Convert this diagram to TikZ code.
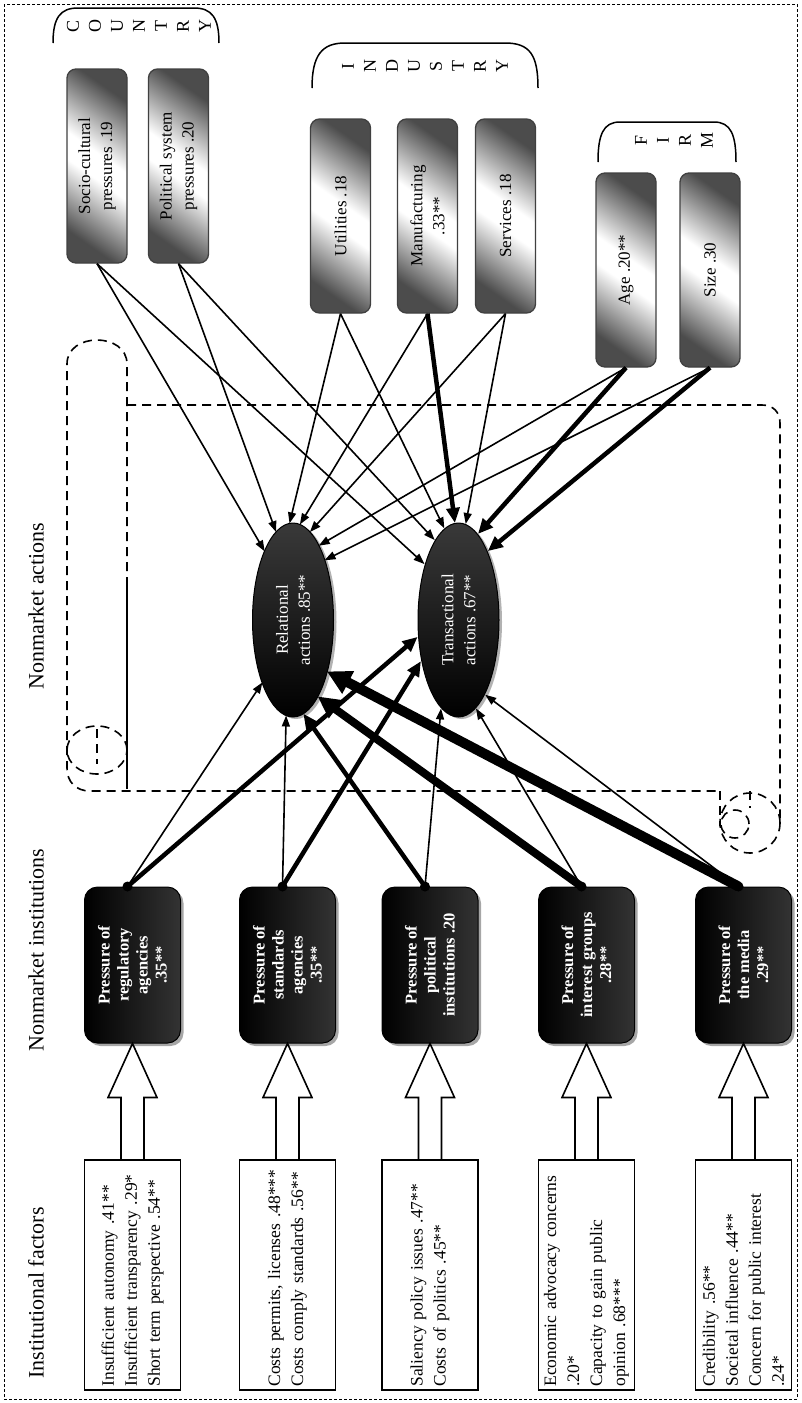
\documentclass[tikz,border=0pt]{standalone}
\usepackage{fontspec}
\setmainfont{Liberation Serif}
\usetikzlibrary{calc}
\usetikzlibrary{positioning}
\usetikzlibrary{arrows.meta}
\usetikzlibrary{shapes.geometric}
\usetikzlibrary{shadows}

\pgfdeclareverticalshading{ctxshade}{100bp}{color(0bp)=(black!70); color(25bp)=(black!70); color(46bp)=(white); color(54bp)=(white); color(75bp)=(black!70); color(100bp)=(black!70)}

\tikzset{
  lbl/.style={font=\fontsize{22}{26}\selectfont},
  factorbox/.style={draw, line width=1.6pt, minimum width=230pt, minimum height=96pt,
    text width=223pt, inner xsep=3.5pt, align=left, font=\fontsize{17.5}{23}\selectfont},
  pressbox/.style={draw=black, line width=1pt, rounded corners=13pt, left color=black, right color=black!80,
    minimum width=156pt, minimum height=96pt, align=center, text=white,
    font=\fontsize{16.5}{19}\selectfont\bfseries,
    drop shadow={shadow xshift=3pt, shadow yshift=-3pt, fill=gray!70, opacity=1}},
  ctxbox/.style={draw=black!75, line width=1.3pt, rounded corners=9pt, minimum width=194pt, minimum height=60pt,
    shading=ctxshade, shading angle=-35,
    align=center, font=\fontsize{17}{22}\selectfont},
  actell/.style={ellipse, draw=black, line width=1pt, minimum width=194pt, minimum height=81pt, inner sep=0pt,
    top color=gray!45!black, bottom color=black, align=center, text=white,
    font=\fontsize{17}{22}\selectfont,
    drop shadow={shadow xshift=3pt, shadow yshift=-2pt, fill=gray!60, opacity=1}},
  brlet/.style={align=center, font=\fontsize{18}{22}\selectfont},
  brk/.style={line width=1.5pt},
  fatarrow/.style={line width=1.6pt, line join=miter},
  scrolldash/.style={line width=1.6pt, dash pattern=on 9pt off 6pt},
  thinarr/.style={line width=1.6pt, -{Triangle[length=11pt,width=8pt]}},
  boldarr/.style={line width=4.5pt, -{Triangle[length=15pt,width=13pt]}},
  heavyarr/.style={line width=8pt, -{Triangle[length=22pt,width=21pt]}},
  hugearr/.style={line width=10pt, -{Triangle[length=24pt,width=24pt]}}
}

\begin{document}
\begin{tikzpicture}[x=1pt,y=-1pt,every node/.style={rotate=90}]
\useasboundingbox (0,0) rectangle (801,1403);
\draw[line width=0.8pt, dash pattern=on 3pt off 2pt] (4,4) rectangle (797,1399);

% scroll
\draw[scrolldash] (127,586) -- (127,364) .. controls (127,332) and (67,332) .. (67,364) -- (67,768)
  .. controls (67,782) and (76,791) .. (90,791) -- (720,791);
\draw[line width=1.2pt] (127,586) -- (127,789);
\draw[scrolldash] (127,405) -- (762,405) .. controls (773,405) and (780,412) .. (780,423) -- (780,823);
\draw[scrolldash] (750,823) circle[radius=30pt];
\draw[scrolldash] (735,824) circle[radius=14pt];
\draw[scrolldash] (720,791) -- (720,826);
\draw[scrolldash] (750,791) -- (750,808);
\draw[scrolldash] (97,750) ellipse[x radius=30pt, y radius=24pt];
\draw[scrolldash] (97,729) -- (97,764);

\node[lbl] (hd1) at (36,1293) {Institutional factors};
\node[lbl] (hd2) at (36,950) {Nonmarket institutions};
\node[lbl] (hd3) at (36,606) {Nonmarket actions};

\node[factorbox] (f1) at (132.5,1275) {Insufficient autonomy .41**\\Insufficient transparency .29*\\Short term perspective .54**};
\node[factorbox] (f2) at (287.5,1275) {Costs permits, licenses .48***\\Costs comply standards .56**};
\node[factorbox] (f3) at (430,1275) {Saliency policy issues .47**\\Costs of politics .45**};
\node[factorbox] (f4) at (586.5,1275) {Economic advocacy concerns\\.20*\\Capacity to gain public\\opinion .68***};
\node[factorbox] (f5) at (743.5,1275) {Credibility .56**\\Societal influence .44**\\Concern for public interest\\.24*};

\node[pressbox] (b1) at (132.5,965) {Pressure of\\regulatory\\agencies\\.35**};
\node[pressbox] (b2) at (287.5,965) {Pressure of\\standards\\agencies\\.35**};
\node[pressbox] (b3) at (430,965) {Pressure of\\political\\institutions .20};
\node[pressbox] (b4) at (586.5,965) {Pressure of\\interest groups\\.28**};
\node[pressbox] (b5) at (743.5,965) {Pressure of\\the media\\.29**};

\foreach \i in {1,...,5}{
  \draw[fatarrow] ($(f\i.east)+(-11.5,0)$) -- ($(b\i.west)+(-11.5,54)$) -- ($(b\i.west)+(-24.5,54)$) -- (b\i.west)
    -- ($(b\i.west)+(24.5,54)$) -- ($(b\i.west)+(11.5,54)$) -- ($(f\i.east)+(11.5,0)$);
  \coordinate (d\i) at ($(b\i.east)+(-5,0)$);
}

\node[ctxbox] (soc) at (97,166) {Socio-cultural\\pressures .19};
\node[ctxbox] (pol) at (178.5,166) {Political system\\pressures .20};
\node[ctxbox] (utl) at (340.5,216) {Utilities .18};
\node[ctxbox] (man) at (427.5,216) {Manufacturing\\.33**};
\node[ctxbox] (srv) at (505.5,216) {Services .18};
\node[ctxbox] (age) at (626,270) {Age .20**};
\node[ctxbox] (siz) at (710,270) {Size .30};

\node[brlet] (cty) at (139,26) {C\\O\\U\\N\\T\\R\\Y};
\node[brlet] (ind) at (425,66) {I\\N\\D\\U\\S\\T\\R\\Y};
\node[brlet] (frm) at (674,140) {F\\I\\R\\M};
\draw[brk] (53,43) .. controls (53,18) and (60,8) .. (78,8) -- (194,8) .. controls (212,8) and (219,18) .. (219,43);
\draw[brk] (312,88) .. controls (312,55) and (322,43) .. (345,43) -- (505,43) .. controls (530,43) and (538,55) .. (538,88);
\draw[brk] (598,162) .. controls (598,135) and (603,122) .. (620,122) -- (714,122) .. controls (731,122) and (736,135) .. (736,162);

\node[actell] (rel) at (293,620) {Relational\\actions .85**};
\node[actell] (trn) at (458.5,620) {Transactional\\actions .67**};

\foreach \src/\dst/\dx/\dy/\sty in {
  soc.west/rel/-28.3/-68.6/thinarr, pol.west/rel/-16.9/-87.9/thinarr, utl.west/rel/-3.5/-96.6/thinarr,
  man.west/rel/6.9/-95.5/thinarr, srv.west/rel/16.9/-87.9/thinarr, age.west/rel/25.7/-74.3/thinarr,
  siz.west/rel/31.5/-59.7/thinarr,
  soc.west/trn/-34.0/-55.9/thinarr, pol.west/trn/-23.8/-79.9/thinarr, utl.west/trn/-14.2/-91.6/thinarr,
  man.west/trn/-3.6/-97.1/boldarr, srv.west/trn/7.2/-96.0/thinarr, age.west/trn/19.5/-86.1/boldarr,
  siz.west/trn/29.3/-68.9/boldarr,
  d1/rel/-30.6/62.4/thinarr, d2/rel/-6.9/95.5/thinarr, d3/rel/10.4/93.7/boldarr,
  d4/rel/24.6/76.4/heavyarr, d5/rel/33.9/51.4/hugearr,
  d1/trn/-40.9/16.9/boldarr, d2/trn/-37.6/41.2/boldarr, d3/trn/-17.5/88.4/thinarr,
  d4/trn/17.5/88.4/thinarr, d5/trn/26.7/74.7/thinarr}
  \draw[\sty] (\src) -- ($(\dst.center)+(\dx,\dy)$);

\foreach \i in {1,...,5}
  \fill (d\i) circle[radius=5pt];
\end{tikzpicture}
\end{document}
